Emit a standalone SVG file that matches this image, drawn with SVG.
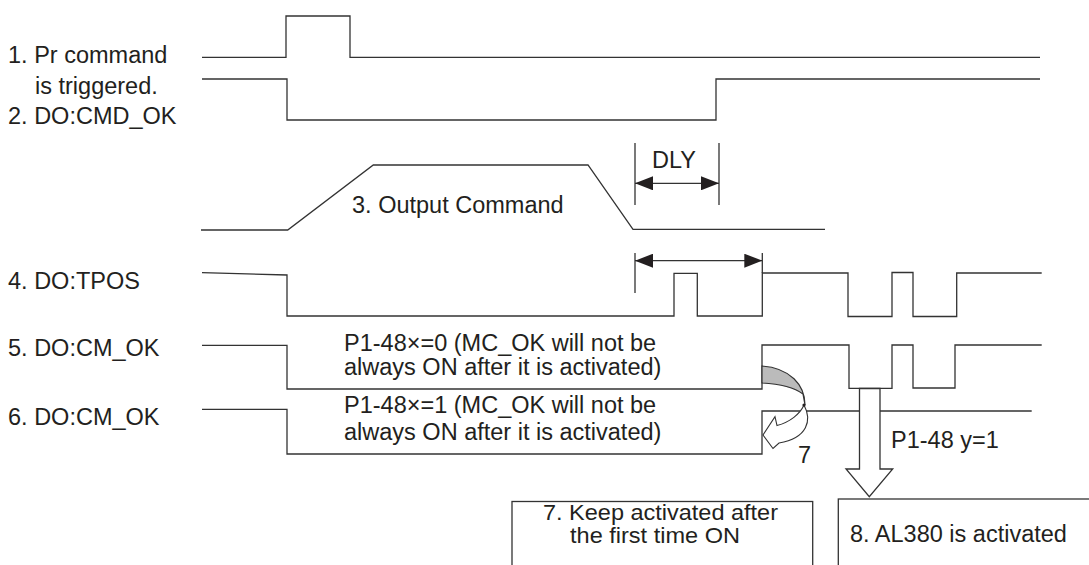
<svg xmlns="http://www.w3.org/2000/svg" width="1089" height="565" viewBox="0 0 1089 565">
<style>
text{font-family:"Liberation Sans",Arial,sans-serif;font-size:23.5px;fill:#231f20}
text.sm{font-size:21.5px}
.sig{fill:none;stroke:#333;stroke-width:1.3;stroke-linejoin:miter}
.dim{fill:none;stroke:#333;stroke-width:1.3}
.box{fill:#fff;stroke:#333;stroke-width:1.3}
</style>
<defs>
<marker id="ah" viewBox="0 0 18 14" refX="18" refY="7" markerWidth="18" markerHeight="14" markerUnits="userSpaceOnUse" orient="auto-start-reverse">
<path d="M0,0 L18,7 L0,14 Z" fill="#231f20"/>
</marker>
</defs>
<rect width="1089" height="565" fill="#fff"/>
<g id="sig1">
<text x="8" y="63">1. Pr command</text>
<text x="35" y="94">is triggered.</text>
<path class="sig" d="M202,57.3 L286,57.3 L286,16 L350,16 L350,57.3 L1040,57.3"/>
</g>
<g id="sig2">
<text x="8" y="124">2. DO:CMD_OK</text>
<path class="sig" d="M202,79 L287,79 L287,120 L716,120 L716,79 L1040,79"/>
</g>
<g id="sig3">
<text x="352" y="212.7">3. Output Command</text>
<path class="sig" d="M201,230 L287.7,230 L373.3,165 L588,165 L633,229.3 L825,229.3"/>
</g>
<g id="sig4">
<text x="8" y="289.3">4. DO:TPOS</text>
<path class="sig" d="M202,272.7 L287,275 L287,316 L674,316 L674,273.3 L697.3,273.3 L697.3,316 L762.3,316 L762.3,273 L848,273 L848,316.5 L892,316.5 L892,272.5 L913,272.5 L913,316.5 L956.7,316.5 L956.7,273 L1041.7,273"/>
</g>
<g id="sig5">
<text x="8" y="356">5. DO:CM_OK</text>
<text x="344" y="350.7">P1-48×=0 (MC_OK will not be</text>
<text x="344" y="375">always ON after it is activated)</text>
<path class="sig" d="M202,345.3 L287,345.3 L287,389 L762,389 L762,345 L849,345 L849,388.3 L892,388.3 L892,345 L913,345 L913,388 L955,388 L955,345 L1041.7,345"/>
</g>
<g id="sig6">
<text x="8" y="425">6. DO:CM_OK</text>
<text x="344" y="413.3">P1-48×=1 (MC_OK will not be</text>
<text x="344" y="440">always ON after it is activated)</text>
<path class="sig" d="M202,409.3 L287,409.3 L287,454 L762,454 L762,411 L1031.7,411"/>
</g>
<g id="box7">
<rect class="box" x="512" y="501.5" width="300.7" height="90"/>
<text class="sm" x="543" y="520" textLength="235" lengthAdjust="spacingAndGlyphs">7. Keep activated after</text>
<text class="sm" x="570" y="543.3" textLength="170" lengthAdjust="spacingAndGlyphs">the first time ON</text>
</g>
<g id="box8">
<rect class="box" x="838.3" y="499" width="260" height="90"/>
<text x="850" y="541.7">8. AL380 is activated</text>
</g>
<g id="connectors">
<path class="dim" d="M635,143 L635,205 M719,143 L719,205"/>
<line class="dim" x1="635" y1="183.3" x2="719" y2="183.3" marker-start="url(#ah)" marker-end="url(#ah)"/>
<text x="652" y="168">DLY</text>
<path class="dim" d="M635,253 L635,293 M762.3,253 L762.3,273"/>
<line class="dim" x1="635" y1="260.7" x2="762.3" y2="260.7" marker-start="url(#ah)" marker-end="url(#ah)"/>
<path d="M762,366 C790,368 805,385 805,405 L803,394 C795,388 780,384 762,383 Z" fill="#bbb" stroke="#333" stroke-width="1.2"/>
<path d="M804,405 C812,420 808,438 779,443 L773,448.5 L763,435 L775,416.7 L777,425.5 C790,422 800,414 804,405 Z" fill="#fff" stroke="#333" stroke-width="1.1"/>
<circle cx="804" cy="405" r="1.6" fill="#231f20"/>
<text x="798" y="463.3">7</text>
<path d="M859.5,388.5 L880,388.5 L880,469 L892.7,469 L869.3,496.7 L846,469 L859.5,469 Z" fill="#fff" stroke="#333" stroke-width="1.3"/>
<text x="891" y="448.3">P1-48 y=1</text>
</g>
</svg>
